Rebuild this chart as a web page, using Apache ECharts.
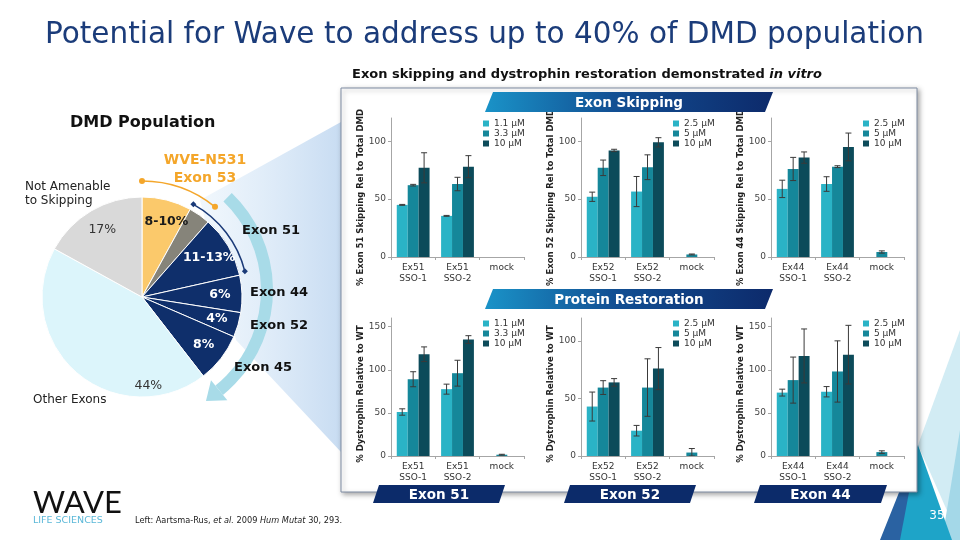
<!DOCTYPE html>
<html>
<head>
<meta charset="utf-8">
<script src="https://cdn.jsdelivr.net/npm/echarts@6/dist/echarts.min.js"></script>
<style>
  html, body { margin: 0; padding: 0; background: #fff; }
  #chart { width: 960px; height: 540px; }
</style>
</head>
<body>
<div id="chart"></div>
<script>
const FONT = 'DejaVu Sans'

// DMD population pie
const pieNames = ['Exon 53', 'Exon 53/51', 'Exon 51', 'Exon 44', 'Exon 52', 'Exon 45', 'Other Exons', 'Not Amenable']
const pieValues = [8, 3.5, 10, 6, 4, 8, 43.5, 17]
const pieLabels = ['8-10%', '', '11-13%', '6%', '4%', '8%', '44%', '17%']

// categories, doses, tick labels
const ex51Cats = ['Ex51\nSSO-1', 'Ex51\nSSO-2', 'mock']
const ex52Cats = ['Ex52\nSSO-1', 'Ex52\nSSO-2', 'mock']
const ex44Cats = ['Ex44\nSSO-1', 'Ex44\nSSO-2', 'mock']
const ex51Doses = ['1.1 µM', '3.3 µM', '10 µM']
const otherDoses = ['2.5 µM', '5 µM', '10 µM']
const ticks100 = [0, 50, 100]
const ticks150 = [0, 50, 100, 150]

// exon skipping, one row per dose (low, mid, high)
const ex51Skip = [[45, 35.5, null], [62, 63, null], [77, 78, null]]
const ex51SkipErr = [[0.4, 0.4, 0], [0.7, 5.8, 0], [13, 9.5, 0]]
const ex52Skip = [[52, 56.5, null], [77, 77.5, 2.2], [92, 99, null]]
const ex52SkipErr = [[4, 13, 0], [6.7, 10.7, 0.4], [1, 4, 0]]
const ex44Skip = [[58.8, 63, null], [76, 78, 4.3], [85.8, 95, null]]
const ex44SkipErr = [[7.5, 6.3, 0], [10, 0.8, 1], [4.9, 12, 0]]

// protein restoration
const ex51Prot = [[51, 77.5, null], [89, 96, 1.5], [118, 135, null]]
const ex51ProtErr = [[3.7, 5.8, 0], [8.7, 15, 0.5], [8.5, 4.5, 0]]
const ex52Prot = [[43, 22, null], [59.5, 59.5, 3], [64, 76, null]]
const ex52ProtErr = [[12.6, 4.6, 0], [6, 25, 3.5], [3.3, 18.3, 0]]
const ex44Prot = [[73.5, 74.5, null], [88, 98, 4.5], [116, 117.5, null]]
const ex44ProtErr = [[4, 6, 0], [26.7, 35.5, 1.5], [31.3, 34, 0]]

const barColors = ['#2ab3c6', '#15879a', '#0c4b5a']
const pieColors = ['#fbc96b', '#86847a', '#0f2f6b', '#0f2f6b', '#0f2f6b', '#0f2f6b', '#dcf5fb', '#d9d9d9']

const panels = [
  { cats: ex51Cats, doses: ex51Doses, vals: ex51Skip, errs: ex51SkipErr, max: 120, ticks: ticks100, name: '% Exon 51 Skipping Rel to Total DMD', left: 391, top: 118, height: 139, shift: 20 },
  { cats: ex52Cats, doses: otherDoses, vals: ex52Skip, errs: ex52SkipErr, max: 120, ticks: ticks100, name: '% Exon 52 Skipping Rel to Total DMD', left: 581, top: 118, height: 139, shift: 20 },
  { cats: ex44Cats, doses: otherDoses, vals: ex44Skip, errs: ex44SkipErr, max: 120, ticks: ticks100, name: '% Exon 44 Skipping Rel to Total DMD', left: 771, top: 118, height: 139, shift: 20 },
  { cats: ex51Cats, doses: ex51Doses, vals: ex51Prot, errs: ex51ProtErr, max: 160, ticks: ticks150, name: '% Dystrophin Relative to WT', left: 391, top: 318, height: 138, shift: 14 },
  { cats: ex52Cats, doses: otherDoses, vals: ex52Prot, errs: ex52ProtErr, max: 120, ticks: ticks100, name: '% Dystrophin Relative to WT', left: 581, top: 318, height: 138, shift: 14 },
  { cats: ex44Cats, doses: otherDoses, vals: ex44Prot, errs: ex44ProtErr, max: 160, ticks: ticks150, name: '% Dystrophin Relative to WT', left: 771, top: 318, height: 138, shift: 14 },
]

const CAT_GAP = 0.26

function renderErr(params, api) {
  const i = api.value(0)
  const v = api.value(1)
  const e = api.value(2)
  const k = api.value(3)
  const band = api.size([1, 0])[0]
  const w = band * (1 - CAT_GAP) / 3
  const x = api.coord([i, v])[0] + (k - 1) * w
  const y1 = api.coord([i, v + e])[1]
  const y2 = api.coord([i, Math.max(v - e, 0)])[1]
  const st = { stroke: '#3a3a3a', lineWidth: 1 }
  return {
    type: 'group',
    children: [
      { type: 'line', shape: { x1: x, y1, x2: x, y2 }, style: st },
      { type: 'line', shape: { x1: x - 3, y1, x2: x + 3, y2: y1 }, style: st },
      { type: 'line', shape: { x1: x - 3, y1: y2, x2: x + 3, y2 }, style: st },
    ],
  }
}

const grid = []
const xAxis = []
const yAxis = []
const legend = []
const series = []

panels.forEach((p, gi) => {
  grid.push({ left: p.left, top: p.top, width: 133, height: p.height })
  xAxis.push({
    type: 'category',
    gridIndex: gi,
    z: 6,
    data: p.cats,
    axisLine: { lineStyle: { color: '#a6a6a6' } },
    axisTick: { show: true, length: 3, lineStyle: { color: '#a6a6a6' } },
    axisLabel: { interval: 0, fontFamily: FONT, fontSize: 9, color: '#333', lineHeight: 11, margin: 5 },
  })
  yAxis.push({
    type: 'value',
    gridIndex: gi,
    z: 6,
    min: 0,
    max: p.max,
    interval: 50,
    name: p.name,
    nameLocation: 'middle',
    nameGap: 26,
    nameTextStyle: { fontFamily: FONT, fontSize: 8.5, fontWeight: 'bold', color: '#222', padding: [0, p.shift, 0, 0] },
    axisLine: { show: true, lineStyle: { color: '#a6a6a6' } },
    axisTick: { show: true, length: 3, customValues: p.ticks, lineStyle: { color: '#a6a6a6' } },
    axisLabel: { fontFamily: FONT, fontSize: 9, color: '#444', margin: 5, customValues: p.ticks },
    splitLine: { show: false },
  })
  legend.push({
    data: p.doses,
    left: p.left + 92,
    top: p.top + 1,
    padding: 0,
    orient: 'vertical',
    icon: 'rect',
    itemWidth: 6,
    itemHeight: 6,
    itemGap: 1,
    selectedMode: false,
    textStyle: { fontFamily: FONT, fontSize: 9, color: '#333', lineHeight: 9 },
  })
  const errData = []
  p.vals.forEach((row, k) => {
    series.push({
      type: 'bar',
      name: p.doses[k],
      xAxisIndex: gi,
      yAxisIndex: gi,
      data: row,
      barGap: '0%',
      barCategoryGap: CAT_GAP * 100 + '%',
      itemStyle: { color: barColors[k] },
      silent: true,
    })
    row.forEach((v, i) => {
      if (v !== null) errData.push([i, v, p.errs[k][i], k])
    })
  })
  series.push({
    type: 'custom',
    xAxisIndex: gi,
    yAxisIndex: gi,
    data: errData,
    encode: { x: 0, y: 1 },
    renderItem: renderErr,
    silent: true,
    z: 5,
  })
})

const pieLabelStyle = [
  { color: '#1a1a1a', fontWeight: 'bold' },
  {},
  { color: '#fff', fontWeight: 'bold' },
  { color: '#fff', fontWeight: 'bold' },
  { color: '#fff', fontWeight: 'bold' },
  { color: '#fff', fontWeight: 'bold' },
  { color: '#333', fontWeight: 'normal' },
  { color: '#333', fontWeight: 'normal' },
]

series.push({
  type: 'pie',
  center: [142, 297],
  radius: [0, 100],
  startAngle: 90,
  silent: true,
  z: 3,
  label: { show: false },
  labelLine: { show: false },
  itemStyle: { borderColor: '#fff', borderWidth: 1 },
  data: pieValues.map((v, i) => ({ name: pieNames[i], value: v, itemStyle: { color: pieColors[i] } })),
})
// transparent twin pie only to place the slice labels further out
series.push({
  type: 'pie',
  center: [142, 297],
  radius: [0, 150],
  startAngle: 90,
  silent: true,
  z: 4,
  itemStyle: { color: 'rgba(0,0,0,0)' },
  label: { show: true, position: 'inside', fontFamily: FONT, fontSize: 12.5, formatter: (q) => pieLabels[q.dataIndex] },
  labelLine: { show: false },
  labelLayout: (q) => (q.dataIndex === 6 ? { dx: 57, dy: 29 } : q.dataIndex === 0 ? { dx: 5 } : {}),
  data: pieValues.map((v, i) => ({ name: pieNames[i] + ' ', value: v, label: pieLabelStyle[i] })),
})

// decorations
const rad = (d) => ((d - 90) * Math.PI) / 180
const polar = (cx, cy, r, d) => [cx + r * Math.sin((d * Math.PI) / 180), cy - r * Math.cos((d * Math.PI) / 180)]

function txt(x, y, text, style) {
  return {
    type: 'text', x, y, z: 50, silent: true,
    style: Object.assign({ text, fontFamily: FONT, fontSize: 12, fill: '#222', verticalAlign: 'middle' }, style),
  }
}

function banner(x1, x2, y1, y2, slant, fill, label) {
  return [
    { type: 'polygon', z: 10, silent: true, shape: { points: [[x1 + slant, y1], [x2, y1], [x2 - slant, y2], [x1, y2]] }, style: { fill } },
    txt((x1 + x2) / 2, (y1 + y2) / 2 + 1, label, { fill: '#fff', fontWeight: 'bold', fontSize: 13.5, align: 'center' }),
  ]
}

const grad = () => new echarts.graphic.LinearGradient(0, 0, 1, 0, [
  { offset: 0, color: '#1a93c8' },
  { offset: 0.45, color: '#124f93' },
  { offset: 1, color: '#0d2a6b' },
])

const arrowEnd = polar(138, 290, 129, 141)
const tA = (141 * Math.PI) / 180
const dir = [Math.cos(tA), Math.sin(tA)]
const nrm = [Math.sin(tA), -Math.cos(tA)]
const head = [
  [arrowEnd[0] + nrm[0] * 13, arrowEnd[1] + nrm[1] * 13],
  [arrowEnd[0] + dir[0] * 17, arrowEnd[1] + dir[1] * 17],
  [arrowEnd[0] - nrm[0] * 13, arrowEnd[1] - nrm[1] * 13],
]

const oA = polar(142, 297, 116, 0)
const oB = polar(142, 297, 116, 39)
const nA = polar(142, 297, 106, 29)
const nB = polar(142, 297, 106, 76)
const diamond = (c) => ({ type: 'polygon', z: 21, silent: true, shape: { points: [[c[0], c[1] - 3], [c[0] + 3, c[1]], [c[0], c[1] + 3], [c[0] - 3, c[1]]] }, style: { fill: '#1b3a78' } })

const graphic = [
  // zoom wedge behind pie
  { type: 'polygon', z: 0, silent: true, shape: { points: [[200, 200], [341, 122], [341, 452], [236, 340]] },
    style: { fill: new echarts.graphic.LinearGradient(0, 0, 1, 0, [{ offset: 0, color: 'rgba(214,232,248,0.35)' }, { offset: 1, color: '#c8dcf2' }]) } },
  // right side decoration
  { type: 'polygon', z: 0, silent: true, shape: { points: [[960, 330], [918, 445], [960, 540]] }, style: { fill: '#d2ecf4' } },
  { type: 'polygon', z: 0, silent: true, shape: { points: [[960, 430], [942, 540], [960, 540]] }, style: { fill: '#a4d8e8' } },
  { type: 'polygon', z: 0, silent: true, shape: { points: [[918, 445], [880, 540], [905, 540]] }, style: { fill: '#2a62a2' } },
  { type: 'polygon', z: 0, silent: true, shape: { points: [[918, 445], [900, 540], [952, 540]] }, style: { fill: '#1ea4c8' } },
  // results panel
  { type: 'rect', z: 1, silent: true, shape: { x: 341, y: 88, width: 576, height: 404 },
    style: { fill: '#fff', stroke: '#7f8ca3', lineWidth: 1, shadowBlur: 5, shadowOffsetX: 2, shadowOffsetY: 2, shadowColor: 'rgba(0,0,0,0.35)' } },
  ...banner(485, 773, 92, 112, 8, grad(), 'Exon Skipping'),
  ...banner(485, 773, 289, 309, 8, grad(), 'Protein Restoration'),
  ...banner(373, 505, 485, 503, 6, '#0c2b6a', 'Exon 51'),
  ...banner(564, 696, 485, 503, 6, '#0c2b6a', 'Exon 52'),
  ...banner(754, 887, 485, 503, 6, '#0c2b6a', 'Exon 44'),
  // arrows around the pie
  { type: 'arc', z: 20, silent: true, shape: { cx: 138, cy: 290, r: 129, startAngle: rad(44), endAngle: rad(141), clockwise: true }, style: { stroke: '#a8dbe8', lineWidth: 12, fill: null } },
  { type: 'polygon', z: 20, silent: true, shape: { points: head }, style: { fill: '#a8dbe8' } },
  { type: 'arc', z: 21, silent: true, shape: { cx: 142, cy: 297, r: 116, startAngle: rad(0), endAngle: rad(39), clockwise: true }, style: { stroke: '#f4a62a', lineWidth: 1.5, fill: null } },
  { type: 'circle', z: 21, silent: true, shape: { cx: oA[0], cy: oA[1], r: 3 }, style: { fill: '#f4a62a' } },
  { type: 'circle', z: 21, silent: true, shape: { cx: oB[0], cy: oB[1], r: 3 }, style: { fill: '#f4a62a' } },
  { type: 'arc', z: 21, silent: true, shape: { cx: 142, cy: 297, r: 106, startAngle: rad(29), endAngle: rad(76), clockwise: true }, style: { stroke: '#1b3a78', lineWidth: 1.5, fill: null } },
  diamond(nA),
  diamond(nB),
  // texts
  txt(45, 35, 'Potential for Wave to address up to 40% of DMD population', { fontSize: 29.5, fill: '#1b3c7a' }),
  txt(352, 75, '{b|Exon skipping and dystrophin restoration demonstrated }{bi|in vitro}', {
    rich: { b: { fontFamily: FONT, fontSize: 13, fontWeight: 'bold', fill: '#111' }, bi: { fontFamily: FONT, fontSize: 13, fontWeight: 'bold', fontStyle: 'italic', fill: '#111' } },
  }),
  txt(70, 123, 'DMD Population', { fontSize: 16, fontWeight: 'bold', fill: '#111' }),
  txt(205, 169, 'WVE-N531\nExon 53', { fontSize: 14, fontWeight: 'bold', fill: '#f4a62a', align: 'center', lineHeight: 18 }),
  txt(25, 194, 'Not Amenable\nto Skipping', { fontSize: 12, lineHeight: 14 }),
  txt(33, 400, 'Other Exons', { fontSize: 12 }),
  txt(242, 231, 'Exon 51', { fontSize: 13, fontWeight: 'bold', fill: '#111' }),
  txt(250, 293, 'Exon 44', { fontSize: 13, fontWeight: 'bold', fill: '#111' }),
  txt(250, 326, 'Exon 52', { fontSize: 13, fontWeight: 'bold', fill: '#111' }),
  txt(234, 368, 'Exon 45', { fontSize: 13, fontWeight: 'bold', fill: '#111' }),
  txt(33, 503, 'WAVE', { fontFamily: 'Lato', fontSize: 31, fill: '#111' }),
  txt(33, 521, 'LIFE SCIENCES', { fontSize: 9.5, fill: '#5bb8d8' }),
  txt(135, 521, 'Left: Aartsma-Rus, {i|et al.} 2009 {i|Hum Mutat} 30, 293.', {
    fontSize: 8.2, fill: '#222', rich: { i: { fontFamily: FONT, fontSize: 8.2, fontStyle: 'italic', fill: '#222' } },
  }),
  txt(937, 516, '35', { fontSize: 12, fill: '#fff', align: 'center' }),
]

const chart = echarts.init(document.getElementById('chart'))
chart.setOption({
  animation: false,
  backgroundColor: '#fff',
  grid,
  xAxis,
  yAxis,
  legend,
  series,
  graphic,
})
</script>
</body>
</html>
